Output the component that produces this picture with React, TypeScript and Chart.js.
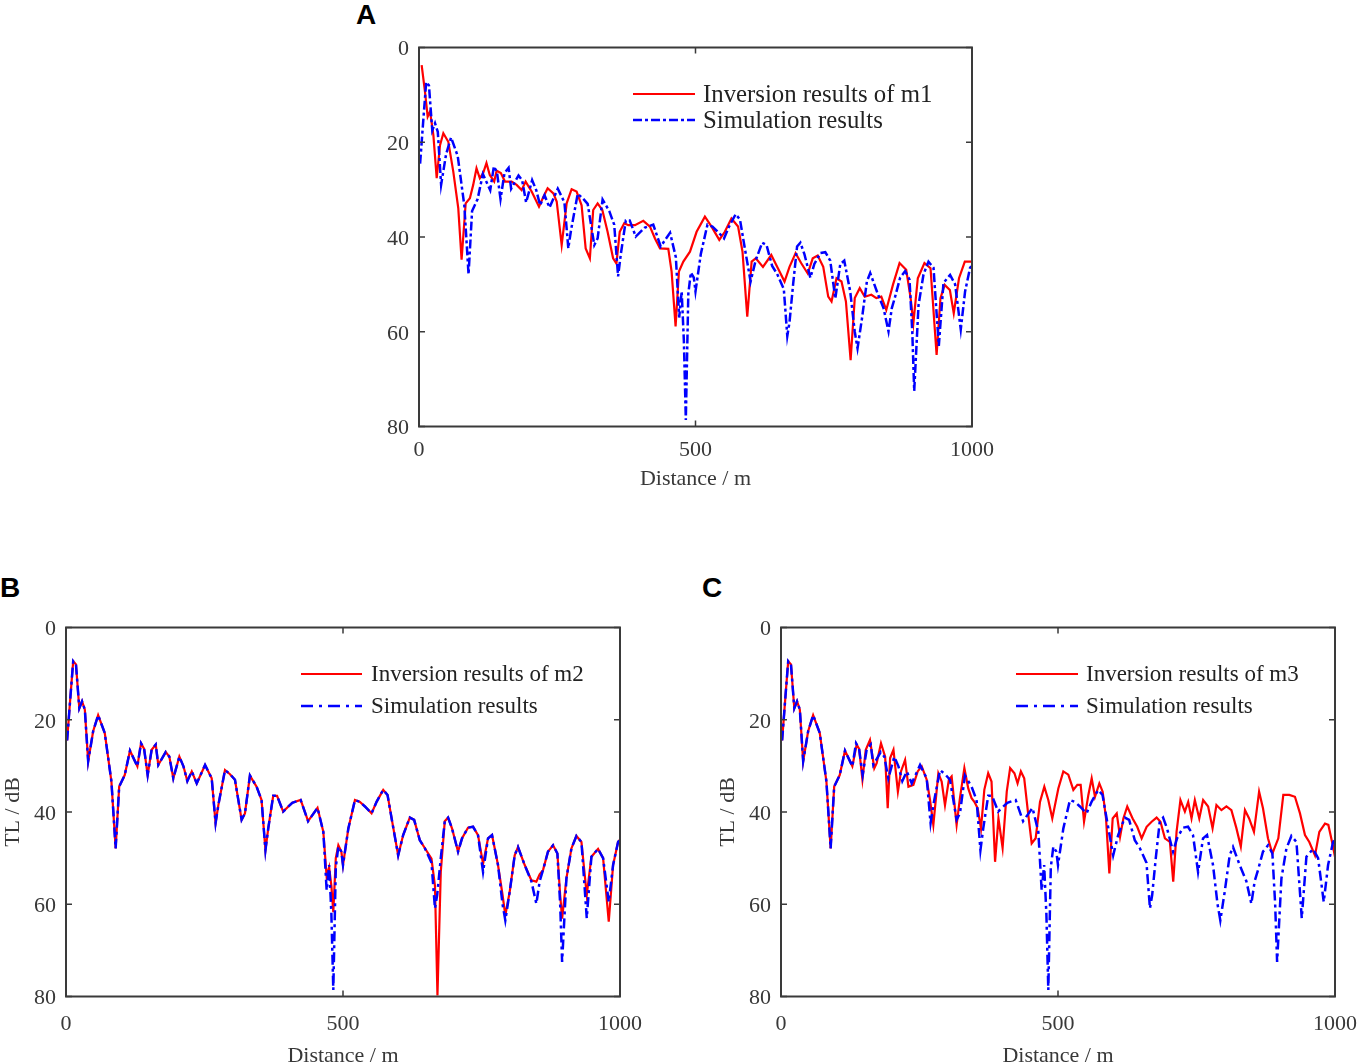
import React, { useEffect, useRef } from "react";
import { Chart, registerables } from "chart.js";

Chart.register(...registerables);

// ---------- data ----------
const xTicks = [0, 500, 1000];
const yTicks = [0, 20, 40, 60, 80];

// Simulation results (same in all panels)
const simX = [2, 8, 13, 18, 24, 29, 34, 40, 49, 58, 70, 82, 89.6, 96, 106, 115.5, 128.8, 135.4, 141, 147.4, 154.6, 162, 166.6, 180, 186.5, 193.7, 204.6, 212, 219, 227, 236, 251, 263, 270, 275, 287, 296, 305, 317, 323, 332, 344, 353, 360, 365, 374, 381, 392, 408.5, 423.6, 437, 454, 464.5, 470.5, 475, 479, 482.5, 487, 491.6, 497, 500, 509.6, 521.6, 530.6, 539.6, 551.6, 560.6, 572.6, 580.4, 588.8, 599.6, 608.6, 620.6, 628.4, 638.6, 647.6, 659.7, 666, 670, 676.5, 683.7, 689.7, 696.9, 707.7, 714.9, 725.7, 734.7, 743.7, 752.8, 761.8, 769, 779.8, 788, 793, 800.9, 809.9, 815.9, 828, 840, 849, 855, 861, 870, 879.2, 887, 892, 895.5, 903.3, 912.3, 921.3, 930.4, 940, 948.4, 960.4, 969.5, 979.7, 987.5, 996.5, 1000];
const simY = [24.5, 15, 7.3, 8, 17.5, 16, 17.8, 29, 22.5, 19, 22.9, 33.4, 47.9, 34.5, 32, 26.7, 30.1, 25.1, 26.3, 32, 26.5, 25.4, 29.8, 27, 28, 32.7, 28, 30.1, 33.3, 31.2, 33.8, 29.8, 32.7, 42.4, 38.5, 30.9, 31.8, 33, 41.7, 40.3, 32.1, 34.5, 37.4, 48.3, 43.6, 36.5, 36.5, 39.9, 38, 37.4, 42, 39.1, 44.3, 57, 51.5, 62, 78.6, 52, 47.5, 48.6, 51.5, 43.6, 37.4, 37.8, 38.8, 40.3, 37.8, 35.2, 36.3, 42.1, 49.4, 45, 41.2, 41.7, 46.1, 47.8, 51, 60.9, 58, 50, 42, 41.2, 43.6, 48.6, 45.7, 43.4, 43.2, 45, 53, 45.7, 45, 51.5, 60, 63.5, 57.3, 49.4, 47.6, 51.5, 55, 59.9, 55, 52.6, 48.6, 47.2, 49, 60, 72.5, 54.4, 47.9, 45.2, 46.5, 63, 49.7, 48, 50, 59.5, 51.5, 46.5, 46];

// Inversion results of m1
const m1X = [4.8, 10.8, 15.7, 20, 26, 32, 38, 44, 53, 62, 71, 77, 84.4, 92, 98, 104, 110, 116, 122, 128, 136, 140.4, 148, 155.5, 167.5, 176.6, 185.6, 192.8, 203.7, 217, 225, 232.6, 243, 249, 258, 267, 276, 285, 294, 301.4, 309, 315, 323, 331.5, 341, 351, 357, 363, 371.2, 378.5, 390.5, 405.6, 417.7, 426.7, 435.8, 450.8, 456.8, 464, 470, 478, 490, 502, 517, 529, 543, 553, 565, 577, 585, 593.6, 601.5, 609, 622, 637, 649, 661, 670, 681, 691, 703, 712, 721, 731, 740, 746, 755, 764, 772, 780.5, 788, 797, 806, 818, 827, 836, 845, 857, 869, 881, 889, 894, 902, 914, 925, 936, 943, 950.5, 960, 967, 976.5, 987, 999];
const m1Y = [3.7, 9.3, 14.6, 13.5, 18.5, 27.6, 20.6, 18.1, 19.9, 26.2, 33.9, 44.8, 32.9, 31.8, 29, 25.5, 27.6, 26.5, 24.4, 26.9, 28.3, 26, 26.5, 28.3, 28.3, 29, 30.1, 28.3, 30.4, 33.6, 31.5, 29.7, 30.8, 32.5, 41.7, 32.9, 29.9, 30.4, 33.3, 42.4, 44.5, 34.3, 32.9, 34.3, 38.9, 44.5, 45.6, 38.9, 37.1, 37.5, 37.5, 36.6, 37.8, 40.3, 42.4, 42.5, 47.3, 58.9, 47.3, 45.2, 43.1, 38.9, 35.7, 37.8, 40.6, 38.9, 36.1, 37.8, 43.1, 56.8, 45.2, 44.5, 46.3, 43.8, 46.6, 49.4, 46.3, 43.4, 45.5, 47.7, 44.5, 43.9, 46.3, 52.6, 53.6, 48.7, 49.4, 53.6, 66, 52.9, 50.8, 52.6, 52.2, 52.9, 52.6, 55.4, 50.1, 45.5, 46.9, 52.9, 58.2, 48.7, 45.5, 46.6, 64.9, 52.9, 50.1, 51.2, 56.1, 48.7, 45.2, 45.2];

// Inversion results of m2
const m2X = [2, 8, 13, 18, 24, 29, 34, 40, 49, 58, 70, 82, 89.6, 96, 106, 115.5, 128.8, 135.4, 141, 147.4, 154.6, 162, 166.6, 180, 186.5, 193.7, 204.6, 212, 219, 227, 236, 251, 263, 270, 275, 287, 296, 305, 317, 323, 332, 344, 353, 360, 365, 374, 381, 392, 408.5, 423.6, 437, 454, 464.5, 470.5, 475, 479, 482.5, 487, 491.6, 497, 500, 509.6, 521.6, 530.6, 539.6, 551.6, 560.6, 572.6, 580.4, 588.8, 599.6, 608.6, 620.6, 628.4, 638.6, 647.6, 659.7, 666, 670.5, 676.5, 683.7, 689.7, 696.9, 707.7, 714.9, 725.7, 734.7, 743.7, 752.8, 761.8, 769, 779.8, 788, 793, 800.9, 809.9, 815.9, 828, 840, 849, 855, 861, 870, 879.2, 887, 892, 895.5, 903.3, 912.3, 921.3, 930.4, 940, 948.4, 960.4, 969.5, 979.7, 987.5, 996.5, 1000];
const m2Y = [24.5, 15, 7.3, 8, 17.5, 16, 17.8, 29, 22.5, 19, 22.9, 33.4, 47.9, 34.5, 32, 26.7, 30.1, 25.1, 26.3, 32, 26.5, 25.4, 29.8, 27, 28, 32.7, 28, 30.1, 33.3, 31.2, 33.8, 29.8, 32.7, 42.4, 38.5, 30.9, 31.8, 33, 41.7, 40.3, 32.1, 34.5, 37.4, 48.3, 43.6, 36.5, 36.5, 39.9, 38, 37.4, 42, 39.1, 44.3, 54, 52, 56, 61.7, 50, 47.2, 48.6, 51.5, 43.6, 37.4, 37.8, 38.8, 40.3, 37.8, 35.2, 36.3, 42.1, 49.4, 45, 41.2, 41.7, 46.1, 47.8, 50.1, 56, 79.8, 53, 42, 41.2, 43.6, 48.6, 45.7, 43.4, 43.2, 45, 51.2, 45.7, 45, 51.5, 58, 62.4, 57.3, 49.4, 47.6, 51.5, 54.8, 55.1, 53.5, 52.6, 48.6, 47.2, 49, 58, 63.1, 54.4, 47.9, 45.2, 46.5, 58, 49.7, 48, 50, 63.8, 51.5, 46.5, 46];

// Inversion results of m3
const m3X = [2, 8, 13, 18, 24, 29, 34, 40, 49, 58, 70, 82, 89.6, 96, 106, 115.5, 128.8, 136.6, 141, 147, 153, 160.6, 168.4, 172.7, 180.5, 188, 192.6, 197, 203, 211, 216.6, 224, 230, 239, 246.7, 254, 263, 269, 275, 284, 290, 296, 303, 308, 317, 323, 331, 338, 344, 349, 355, 361, 367, 374, 380, 386.4, 392.5, 400, 407.5, 413.6, 421.4, 427, 433, 439, 446.4, 452.5, 459.7, 467.5, 475.3, 482.5, 489.7, 500.6, 509.6, 518.6, 527.7, 534.9, 540.9, 547, 554.8, 560.8, 566.8, 574.6, 580.6, 586.7, 592.7, 598.7, 606, 612, 618, 625, 634.7, 643, 651, 660, 669, 678, 685, 693, 702, 708, 714, 721, 729, 735, 741, 747, 755, 762, 771, 779, 786, 795, 804, 813, 822, 830, 837.5, 845, 853.7, 863, 870, 879, 887, 897.7, 906.7, 917.5, 927.7, 936.8, 945.8, 953.6, 963.9, 971.7, 981.9, 988, 996, 1000];
const m3Y = [24.5, 15, 7.3, 8, 17.5, 16, 17.8, 29, 22.5, 19, 22.9, 33.4, 47.9, 34.5, 32, 26.7, 30.1, 25.4, 26.3, 33, 26.5, 24.4, 30.5, 29.4, 25.1, 28, 39.2, 28.3, 26.5, 35.6, 31.2, 28.7, 34.5, 34.1, 31.2, 30.1, 33, 37.4, 42.8, 31.6, 33.4, 38.5, 33, 32.3, 42.8, 37, 30.5, 34.9, 37, 37.8, 39.2, 43.6, 35.2, 31.6, 33.4, 50.8, 41.4, 47.8, 35.6, 30.5, 31.6, 33.8, 31.2, 32.7, 40.7, 46.8, 45.7, 37.8, 34.5, 37.4, 41.4, 34.9, 31.2, 31.9, 35.2, 34.1, 34.1, 42.1, 36.3, 32.7, 36.7, 33.8, 35.6, 41.4, 53.3, 41.4, 40.3, 45.4, 41.4, 38.8, 41.4, 43.2, 45.7, 43.2, 42.1, 41.2, 42.1, 45.7, 46.5, 55.1, 44.3, 37.4, 39.9, 37.8, 41.4, 37.4, 41.4, 37.4, 38.8, 43.5, 38.5, 39.6, 38.8, 39.6, 43.5, 47.5, 39.6, 41.4, 44.3, 35.6, 39.2, 45.7, 49, 45.7, 36.3, 36.3, 36.7, 40.3, 45, 46.5, 49.4, 44.3, 42.5, 42.8, 47.2, 49.7];

const simLabel = "Simulation results";
const xTitle = "Distance / m";
const yTitle = "TL / dB";

// ---------- styling ----------
const SERIF = "'Liberation Serif', 'Times New Roman', serif";
const TEXT = "#383838";
const RED = "#ff0000";
const BLUE = "#0000ff";
const DASH = [10, 4, 3, 4];

const pts = (xs: number[], ys: number[]) => xs.map((x, i) => ({ x, y: ys[i] }));

const framePlugin = {
  id: "frame",
  afterDatasetsDraw(chart: any, _args: any, opts: any) {
    const { ctx, chartArea: a, scales } = chart;
    ctx.save();
    // inward tick marks on all four sides
    const tl = 6;
    ctx.strokeStyle = "#3a3a3a";
    ctx.lineWidth = 1.5;
    ctx.beginPath();
    for (const v of xTicks) {
      const px = scales.x.getPixelForValue(v);
      ctx.moveTo(px, a.bottom);
      ctx.lineTo(px, a.bottom - tl);
      ctx.moveTo(px, a.top);
      ctx.lineTo(px, a.top + tl);
    }
    for (const v of yTicks) {
      const py = scales.y.getPixelForValue(v);
      ctx.moveTo(a.left, py);
      ctx.lineTo(a.left + tl, py);
      ctx.moveTo(a.right, py);
      ctx.lineTo(a.right - tl, py);
    }
    ctx.stroke();
    ctx.lineWidth = 2;
    ctx.strokeRect(a.left, a.top, a.right - a.left, a.bottom - a.top);

    // legend
    if (opts && opts.labels) {
      const L = opts;
      ctx.font = `${L.size}px ${SERIF}`;
      ctx.textBaseline = "middle";
      ctx.textAlign = "left";
      ctx.setLineDash([]);
      ctx.strokeStyle = RED;
      ctx.lineWidth = 2.2;
      ctx.beginPath();
      ctx.moveTo(L.x0, L.y1);
      ctx.lineTo(L.x1, L.y1);
      ctx.stroke();
      ctx.setLineDash(L.dash);
      ctx.strokeStyle = BLUE;
      ctx.lineWidth = 2.5;
      ctx.beginPath();
      ctx.moveTo(L.x0, L.y2);
      ctx.lineTo(L.x1, L.y2);
      ctx.stroke();
      ctx.setLineDash([]);
      ctx.fillStyle = "#222222";
      ctx.fillText(L.labels[0], L.tx, L.y1 + 1);
      ctx.fillText(L.labels[1], L.tx, L.y2 + 1);
    }
    ctx.restore();
  },
};

type PanelCfg = {
  left: number;
  top: number;
  width: number;
  height: number;
  padTop: number;
  padRight: number;
  yW: number;
  xH: number;
  xTickPad: number;
  yTickPad: number;
  xTitlePad: number;
  showYTitle: boolean;
  redX: number[];
  redY: number[];
  redLabel: string;
  legend: { x0: number; x1: number; tx: number; y1: number; y2: number; size: number; dash: number[] };
  dash: number[];
};

function Panel(p: PanelCfg) {
  const ref = useRef<HTMLCanvasElement | null>(null);
  useEffect(() => {
    if (!ref.current) return;
    const font = { family: SERIF, size: 22 };
    const chart = new Chart(ref.current, {
      type: "line",
      data: {
        datasets: [
          {
            label: p.redLabel,
            data: pts(p.redX, p.redY),
            borderColor: RED,
            borderWidth: 2.2,
            pointRadius: 0,
            tension: 0,
            order: 2,
          },
          {
            label: simLabel,
            data: pts(simX, simY),
            borderColor: BLUE,
            borderWidth: 2.5,
            borderDash: p.dash,
            pointRadius: 0,
            tension: 0,
            order: 1,
          },
        ],
      },
      options: {
        responsive: false,
        animation: false,
        devicePixelRatio: 1,
        parsing: false as any,
        layout: { padding: { top: p.padTop, right: p.padRight, bottom: 0, left: 0 } },
        plugins: {
          legend: { display: false },
          tooltip: { enabled: false },
          frame: {
            ...p.legend,
            labels: [p.redLabel, simLabel],
          },
        } as any,
        scales: {
          x: {
            type: "linear",
            min: 0,
            max: 1000,
            grid: { display: false, drawTicks: false },
            border: { display: false },
            afterBuildTicks: (s: any) => {
              s.ticks = xTicks.map((v) => ({ value: v }));
            },
            afterFit: (s: any) => {
              s.height = p.xH;
            },
            ticks: {
              font,
              color: TEXT,
              padding: p.xTickPad,
              maxRotation: 0,
              autoSkip: false,
              callback: (v: any) => String(v),
            },
            title: {
              display: true,
              text: xTitle,
              font,
              color: TEXT,
              padding: { top: 0, bottom: p.xTitlePad },
            },
          },
          y: {
            type: "linear",
            reverse: true,
            min: 0,
            max: 80,
            grid: { display: false, drawTicks: false },
            border: { display: false },
            afterBuildTicks: (s: any) => {
              s.ticks = yTicks.map((v) => ({ value: v }));
            },
            afterFit: (s: any) => {
              s.width = p.yW;
            },
            ticks: {
              font,
              color: TEXT,
              padding: p.yTickPad,
              labelOffset: 2,
              autoSkip: false,
              callback: (v: any) => String(v),
            },
            title: {
              display: p.showYTitle,
              text: yTitle,
              font,
              color: TEXT,
              padding: { top: 0, bottom: 0 },
            },
          },
        },
      } as any,
      plugins: [framePlugin],
    });
    return () => chart.destroy();
  }, []);
  return (
    <canvas
      ref={ref}
      width={p.width}
      height={p.height}
      style={{ position: "absolute", left: p.left, top: p.top, width: p.width, height: p.height }}
    />
  );
}

const letterStyle: React.CSSProperties = {
  position: "absolute",
  font: "bold 28px 'Liberation Sans', Arial, sans-serif",
  lineHeight: "28px",
  color: "#000",
};

export default function App() {
  return (
    <div
      style={{
        position: "absolute",
        left: 0,
        top: 0,
        width: 1358,
        height: 1063,
        overflow: "hidden",
        background: "#fff",
      }}
    >
      <div style={{ ...letterStyle, left: 356, top: 1 }}>A</div>
      <div style={{ ...letterStyle, left: 0, top: 574 }}>B</div>
      <div style={{ ...letterStyle, left: 702, top: 574 }}>C</div>
      <Panel
        left={340}
        top={0}
        width={680}
        height={500}
        padTop={47.5}
        padRight={48}
        yW={79}
        xH={73.5}
        xTickPad={11}
        yTickPad={10}
        xTitlePad={8}
        showYTitle={false}
        redX={m1X}
        redY={m1Y}
        redLabel="Inversion results of m1"
        dash={[9, 3, 3, 3]}
        legend={{ x0: 633 - 340, x1: 695 - 340, tx: 703 - 340, y1: 94, y2: 120, size: 24.8, dash: [9, 3, 3, 3] }}
      />
      <Panel
        left={0}
        top={600}
        width={680}
        height={480}
        padTop={27.5}
        padRight={60}
        yW={66}
        xH={83.5}
        xTickPad={15}
        yTickPad={10}
        xTitlePad={11}
        showYTitle={true}
        redX={m2X}
        redY={m2Y}
        redLabel="Inversion results of m2"
        dash={DASH}
        legend={{ x0: 301, x1: 362, tx: 371, y1: 74, y2: 106, size: 23, dash: [12, 6, 3, 6] }}
      />
      <Panel
        left={715}
        top={600}
        width={680}
        height={480}
        padTop={27.5}
        padRight={60}
        yW={66}
        xH={83.5}
        xTickPad={15}
        yTickPad={10}
        xTitlePad={11}
        showYTitle={true}
        redX={m3X}
        redY={m3Y}
        redLabel="Inversion results of m3"
        dash={DASH}
        legend={{ x0: 301, x1: 363, tx: 371, y1: 74, y2: 106, size: 23, dash: [12, 6, 3, 6] }}
      />
    </div>
  );
}
